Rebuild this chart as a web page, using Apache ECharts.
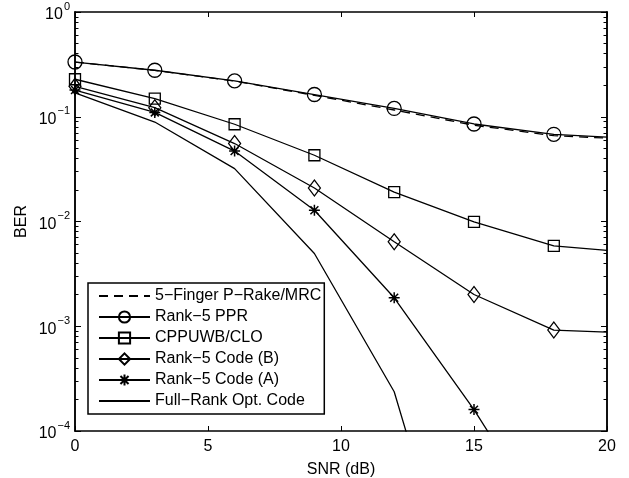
<!DOCTYPE html>
<html>
<head>
<meta charset="utf-8">
<script src="https://cdn.jsdelivr.net/npm/echarts@6/dist/echarts.min.js"></script>
<style>html,body{margin:0;padding:0;background:#fff;}#c{width:629px;height:478px;}</style>
</head>
<body>
<div id="c"></div>
<script>
// ---- data ----
const snr = [0, 3, 6, 9, 12, 15, 18, 20];
const snrFull = [0, 3, 6, 9, 12, 15];
const snrA = [0, 3, 6, 9, 12, 15, 18];
const pRakeMRC = [0.333, 0.277, 0.219, 0.160, 0.116, 0.083, 0.066, 0.0625];
const rank5PPR = [0.333, 0.278, 0.220, 0.163, 0.120, 0.0853, 0.068, 0.064];
const cppuwbCLO = [0.228, 0.149, 0.0848, 0.0429, 0.0191, 0.0099, 0.00585, 0.0053];
const rank5CodeB = [0.195, 0.122, 0.0555, 0.0209, 0.0064, 0.00201, 0.00092, 0.00088];
const rank5CodeA = [0.180, 0.110, 0.047, 0.0128, 0.00187, 0.00016, 0.00001];
const fullRankOpt = [0.169, 0.089, 0.032, 0.00495, 0.000237, 0.00000066];
const seriesNames = ['5\u2212Finger P\u2212Rake/MRC', 'Rank\u22125 PPR', 'CPPUWB/CLO', 'Rank\u22125 Code (B)', 'Rank\u22125 Code (A)', 'Full\u2212Rank Opt. Code'];
const xTicks = [0, 5, 10, 15, 20];
const yDecadeExponents = [-4, -3, -2, -1, 0];
const yMinorMultipliers = [2, 3, 4, 5, 6, 7, 8, 9];

const majorVals = yDecadeExponents.map(e => Math.pow(10, e));
const minorVals = [];
yDecadeExponents.slice(0, -1).forEach(e => yMinorMultipliers.forEach(m => minorVals.push(m * Math.pow(10, e))));

const FONT = 'Liberation Sans';
const zip = (xs, ys) => xs.map((x, i) => [x, ys[i]]);
const starPath = 'path://M0,-5L0,5M-5,0L5,0M-3.6,-3.6L3.6,3.6M-3.6,3.6L3.6,-3.6';

function yAxisBase(pos, showLabel, ticks, len) {
  return {
    type: 'log', logBase: 10, min: 1e-4, max: 1, position: pos,
    axisLine: { show: true, lineStyle: { color: '#000', width: 1.5 } },
    axisTick: { show: true, inside: true, length: len, lineStyle: { color: '#000', width: 1 }, customValues: ticks },
    axisLabel: showLabel ? {
      show: true, margin: 5, customValues: majorVals,
      formatter: function (v) {
        const e = Math.round(Math.log10(v));
        return '{b|10}{s|' + (e < 0 ? '\u2212' + (-e) : e) + '}';
      },
      rich: {
        b: { fontFamily: FONT, fontSize: 16, color: '#000', lineHeight: 22, verticalAlign: 'bottom' },
        s: { fontFamily: FONT, fontSize: 11, color: '#000', lineHeight: 22, verticalAlign: 'top', padding: [0, 0, 0, 1] }
      }
    } : { show: false },
    splitLine: { show: false }, minorTick: { show: false }
  };
}

const yAxes = [
  Object.assign(yAxisBase('left', true, majorVals, 6), { name: 'BER', nameLocation: 'middle', nameGap: 45, nameRotate: 90,
    nameMoveOverlap: false,
    nameTextStyle: { fontFamily: FONT, fontSize: 16, color: '#000' } }),
  yAxisBase('left', false, minorVals, 3.5),
  yAxisBase('right', false, majorVals, 6),
  yAxisBase('right', false, minorVals, 3.5)
];

function xAxisBase(pos, showLabel) {
  return {
    type: 'value', min: 0, max: 20, interval: 5, position: pos,
    axisLine: { show: true, onZero: false, lineStyle: { color: '#000', width: 1.5 } },
    axisTick: { show: true, inside: true, length: 5, lineStyle: { color: '#000', width: 1 } },
    axisLabel: showLabel ? { show: true, margin: 8, fontFamily: FONT, fontSize: 16, color: '#000',
      customValues: xTicks } : { show: false },
    splitLine: { show: false }
  };
}
const xAxes = [
  Object.assign(xAxisBase('bottom', true), { name: 'SNR (dB)', nameLocation: 'middle', nameGap: 31,
    nameTextStyle: { fontFamily: FONT, fontSize: 16, color: '#000' } }),
  xAxisBase('top', false)
];

function lineSeries(name, data, symbol, size, dashed) {
  return {
    name: name, type: 'line', data: data, xAxisIndex: 0, yAxisIndex: 0,
    symbol: symbol, symbolSize: size, showSymbol: symbol !== 'none',
    clip: true, animation: false,
    lineStyle: { color: '#000', width: 1.3, type: dashed ? [9, 6] : 'solid' },
    itemStyle: { color: 'rgba(0,0,0,0)', borderColor: '#000', borderWidth: 1.3 },
    emphasis: { disabled: true }
  };
}

const series = [
  lineSeries(seriesNames[0], zip(snr, pRakeMRC), 'none', 0, true),
  lineSeries(seriesNames[1], zip(snr, rank5PPR), 'circle', 14, false),
  lineSeries(seriesNames[2], zip(snr, cppuwbCLO), 'rect', 11, false),
  lineSeries(seriesNames[3], zip(snr, rank5CodeB), 'diamond', [12, 16], false),
  lineSeries(seriesNames[4], zip(snrA, rank5CodeA), starPath, 11, false),
  lineSeries(seriesNames[5], zip(snrFull, fullRankOpt), 'none', 0, false)
];
series[4].itemStyle.borderWidth = 1.5;
// no marker at the x=20 end point
series.forEach(s => {
  if (s.symbol !== 'none') {
    s.data = s.data.map(p => p[0] === 20 ? { value: p, symbol: 'none' } : p);
  }
});

const hiddenIcon = { color: 'rgba(0,0,0,0)', borderColor: 'rgba(0,0,0,0)', borderWidth: 0 };
const legendData = seriesNames.map((n, i) => (i === 0 || i === 5) ? { name: n, itemStyle: hiddenIcon } : { name: n });

const chart = echarts.init(document.getElementById('c'), null, { renderer: 'canvas' });
chart.setOption({
  animation: false,
  backgroundColor: '#fff',
  grid: { left: 75, right: 22, top: 12, bottom: 47, containLabel: false, outerBoundsMode: 'none' },
  xAxis: xAxes,
  yAxis: yAxes,
  legend: {
    left: 88, top: 283, orient: 'vertical',
    backgroundColor: '#fff', borderColor: '#000', borderWidth: 1.5,
    padding: [5, 3, 5, 10], itemGap: 5, itemWidth: 51, itemHeight: 14,
    textStyle: { fontFamily: FONT, fontSize: 16, color: '#000' },
    selectedMode: false,
    data: legendData
  },
  series: series
});
</script>
</body>
</html>
